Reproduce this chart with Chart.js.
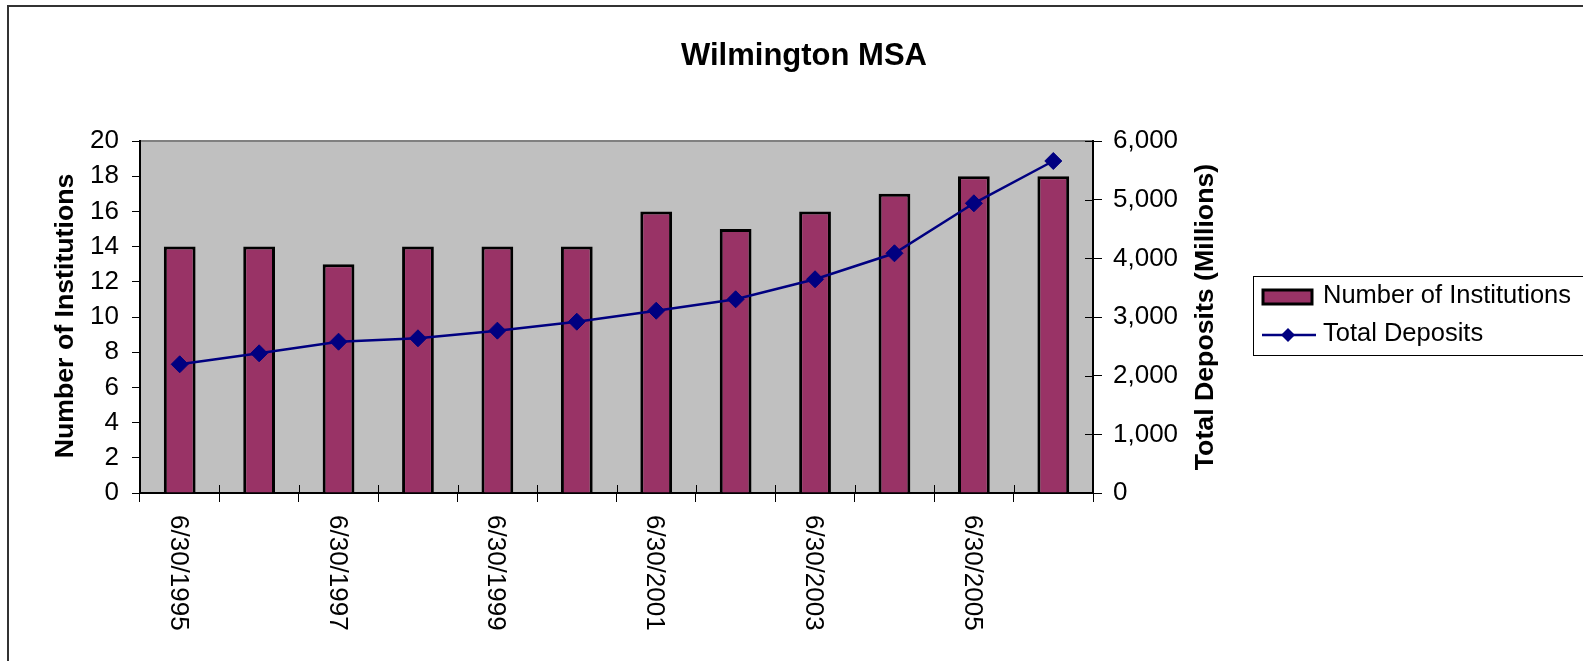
<!DOCTYPE html>
<html><head><meta charset="utf-8">
<script src="https://cdn.jsdelivr.net/npm/chart.js@4.4.1/dist/chart.umd.min.js"></script>
<style>html,body{margin:0;padding:0;background:#fff;overflow:hidden}canvas{display:block}</style>
</head><body>
<canvas id="c" width="1583" height="661"></canvas>
<script>
const chartTitle = 'Wilmington MSA';
const categories = ['6/30/1995','6/30/1996','6/30/1997','6/30/1998','6/30/1999','6/30/2000','6/30/2001','6/30/2002','6/30/2003','6/30/2004','6/30/2005','6/30/2006'];
const institutions = [14, 14, 13, 14, 14, 14, 16, 15, 16, 17, 18, 18];
const deposits = [2194, 2381, 2579, 2637, 2767, 2920, 3107, 3302, 3643, 4086, 4938, 5659];
const leftAxisTitle = 'Number of Institutions';
const rightAxisTitle = 'Total Deposits (Millions)';
const seriesNames = ['Number of Institutions', 'Total Deposits'];

const FONT = "'Liberation Sans', Arial, Helvetica, sans-serif";
Chart.defaults.font.family = FONT;
Chart.defaults.color = '#000';

const BAR_COLOR = '#993366';
const LINE_COLOR = '#000080';

const decor = {
  id: 'decor',
  beforeDraw(chart) {
    const {ctx, chartArea: a} = chart;
    ctx.save();
    ctx.fillStyle = '#fff';
    ctx.fillRect(0, 0, chart.width, chart.height);
    ctx.fillStyle = '#c0c0c0';
    ctx.fillRect(a.left, a.top, a.right - a.left, a.bottom - a.top);
    ctx.strokeStyle = '#808080';
    ctx.lineWidth = 2;
    ctx.beginPath(); ctx.moveTo(a.left, a.top); ctx.lineTo(a.right, a.top); ctx.stroke();
    ctx.strokeStyle = '#333';
    ctx.lineWidth = 2;
    ctx.strokeRect(8, 6, 2000, 1000);
    ctx.restore();
  },
  afterDraw(chart) {
    const {ctx, chartArea: a, scales} = chart;
    ctx.save();
    // title
    ctx.fillStyle = '#000';
    ctx.font = 'bold 31px ' + FONT;
    ctx.textAlign = 'center';
    ctx.textBaseline = 'alphabetic';
    ctx.fillText(chartTitle, 804, 65);
    // axis titles
    ctx.font = 'bold 26.7px ' + FONT;
    ctx.save(); ctx.translate(73, 316); ctx.rotate(-Math.PI / 2);
    ctx.fillText(leftAxisTitle, 0, 0); ctx.restore();
    ctx.save(); ctx.translate(1213, 317); ctx.rotate(-Math.PI / 2);
    ctx.fillText(rightAxisTitle, 0, 0); ctx.restore();
    // x labels rotated clockwise, every other category
    const xs = scales.x;
    ctx.font = '26px ' + FONT;
    ctx.textAlign = 'left';
    categories.forEach((lab, i) => {
      if (i % 2 !== 0) return;
      const cx = xs.getPixelForValue(i);
      ctx.save(); ctx.translate(cx - 9, a.bottom + 22); ctx.rotate(Math.PI / 2);
      ctx.fillText(lab, 0, 0); ctx.restore();
    });
    // inner halves of crossing tick marks
    ctx.strokeStyle = '#000';
    ctx.lineWidth = 1;
    const half = (xs.getPixelForValue(1) - xs.getPixelForValue(0)) / 2;
    for (let i = 0; i <= categories.length; i++) {
      const x = Math.round(xs.getPixelForValue(0) - half + i * 2 * half) + 0.5;
      ctx.beginPath(); ctx.moveTo(x, a.bottom - 8); ctx.lineTo(x, a.bottom); ctx.stroke();
    }
    const y1 = scales.y1;
    y1.ticks.forEach(t => {
      const y = Math.round(y1.getPixelForValue(t.value)) + 0.5;
      ctx.beginPath(); ctx.moveTo(a.right - 8, y); ctx.lineTo(a.right, y); ctx.stroke();
    });
    // legend
    ctx.lineWidth = 1;
    ctx.strokeStyle = '#000';
    ctx.strokeRect(1253.5, 276.5, 500, 79);
    ctx.fillStyle = BAR_COLOR;
    ctx.fillRect(1263, 290, 49, 14);
    ctx.lineWidth = 3;
    ctx.strokeRect(1263, 290, 49, 14);
    ctx.strokeStyle = LINE_COLOR;
    ctx.lineWidth = 2.5;
    ctx.beginPath(); ctx.moveTo(1262, 335); ctx.lineTo(1316, 335); ctx.stroke();
    ctx.fillStyle = LINE_COLOR;
    ctx.beginPath(); ctx.moveTo(1288, 328); ctx.lineTo(1295, 335); ctx.lineTo(1288, 342); ctx.lineTo(1281, 335); ctx.closePath(); ctx.fill();
    ctx.fillStyle = '#000';
    ctx.font = '25.5px ' + FONT;
    ctx.textBaseline = 'middle';
    ctx.fillText(seriesNames[0], 1323, 296);
    ctx.fillText(seriesNames[1], 1323, 334);
    ctx.restore();
  }
};

new Chart(document.getElementById('c'), {
  data: {
    labels: categories,
    datasets: [
      {
        type: 'line', label: seriesNames[1], data: deposits, yAxisID: 'y1', order: 1,
        borderColor: LINE_COLOR, backgroundColor: LINE_COLOR, borderWidth: 2.5,
        pointStyle: 'rectRot', pointRadius: 8.5, pointBackgroundColor: LINE_COLOR,
        pointBorderColor: LINE_COLOR, pointBorderWidth: 1, tension: 0
      },
      {
        type: 'bar', label: seriesNames[0], data: institutions, yAxisID: 'y', order: 2,
        backgroundColor: BAR_COLOR, borderColor: '#000', borderWidth: 3,
        barPercentage: 0.40, categoryPercentage: 1
      }
    ]
  },
  options: {
    responsive: false,
    devicePixelRatio: 1,
    animation: false,
    layout: {padding: {top: 141, left: 0, right: 0, bottom: 0}},
    plugins: {legend: {display: false}, title: {display: false}, tooltip: {enabled: false}},
    scales: {
      x: {
        type: 'category', offset: true, z: 1,
        grid: {display: true, drawOnChartArea: false, drawTicks: true, tickLength: 9, color: '#000', lineWidth: 1, offset: true},
        border: {display: true, color: '#000', width: 2},
        ticks: {display: false},
        afterFit(s) { s.height = 168; }
      },
      y: {
        position: 'left', min: 0, max: 20, z: 1,
        ticks: {stepSize: 2, font: {size: 26}, padding: 13, color: '#000'},
        grid: {drawOnChartArea: false, tickLength: 8, color: '#000', lineWidth: 1},
        border: {display: true, color: '#000', width: 2},
        afterFit(s) { s.width = 140; }
      },
      y1: {
        position: 'right', min: 0, max: 6000, z: 1,
        ticks: {stepSize: 1000, font: {size: 26}, padding: 11, color: '#000', callback: v => v.toLocaleString('en-US')},
        grid: {drawOnChartArea: false, tickLength: 9, color: '#000', lineWidth: 1},
        border: {display: true, color: '#000', width: 2},
        afterFit(s) { s.width = 490; }
      }
    }
  },
  plugins: [decor]
});
</script>
</body></html>
